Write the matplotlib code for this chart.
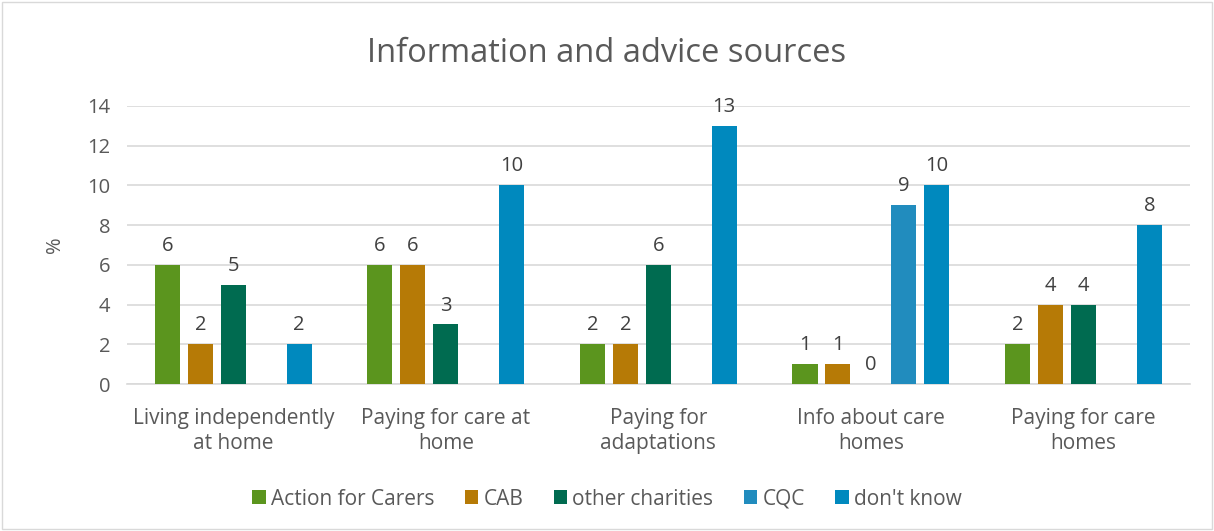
import numpy as np
import matplotlib
matplotlib.use('Agg')
from matplotlib import pyplot as plt

categories = ['Living independently\nat home', 'Paying for care at\nhome', 'Paying for\nadaptations',
              'Info about care\nhomes', 'Paying for care\nhomes']
series = ['Action for Carers', 'CAB', 'other charities', 'CQC', "don't know"]
action_for_carers = [6, 6, 2, 1, 2]
cab = [2, 6, 2, 1, 4]
other_charities = [5, 3, 6, 0, 4]
cqc = [np.nan, np.nan, np.nan, 9, np.nan]
dont_know = [2, 10, 13, 10, 8]
colors = ['#5B951E', '#B67A06', '#006B50', '#218CBE', '#0089BE']

values = [action_for_carers, cab, other_charities, cqc, dont_know]

plt.rcParams['font.family'] = ['Open Sans', 'DejaVu Sans']
txt = '#595959'

fig = plt.figure(figsize=(12.14, 5.31), dpi=100)
ax = fig.add_axes([0.1046, 0.2768, 0.8754, 0.5236])
fig.patches.append(plt.Rectangle((0.002, 0.003), 0.996, 0.994, transform=fig.transFigure,
                                 fill=False, edgecolor='#D9D9D9', linewidth=1))

x = np.arange(len(categories))
pitch = 0.155
width = 0.118
for i, (name, vals) in enumerate(zip(series, values)):
    pos = x + (i - 2) * pitch
    ax.bar(pos, vals, width, color=colors[i], label=name, zorder=3)
    for p, v in zip(pos, vals):
        if not np.isnan(v):
            ax.text(p, v + 0.45, '%d' % v, ha='center', va='bottom', fontsize=14.5, color='#404040')

ax.set_xlim(-0.5, 4.5)
ax.set_ylim(0, 14)
ax.set_yticks(range(0, 15, 2))
ax.grid(axis='y', color='#D9D9D9', linewidth=1.2, zorder=0)
for s in ['top', 'right', 'left']:
    ax.spines[s].set_visible(False)
ax.spines['bottom'].set_color('#D9D9D9')
ax.spines['bottom'].set_linewidth(1.2)
ax.tick_params(axis='y', length=0, labelsize=14.5, colors=txt, pad=12)
ax.tick_params(axis='x', length=0, colors=txt, pad=17)
ax.set_xticks(x)
ax.set_xticklabels(categories, fontsize=15, color=txt, linespacing=1.3)
ax.set_ylabel('%', fontsize=14.5, color=txt, labelpad=16)

fig.suptitle('Information and advice sources', y=0.93, fontsize=23.5, color=txt)
fig.legend(loc='lower center', bbox_to_anchor=(0.5, 0.005), ncol=5, frameon=False,
           fontsize=15, labelcolor=txt, handlelength=0.65, handleheight=0.65,
           handletextpad=0.25, columnspacing=1.45)

plt.savefig('out.png', dpi=100)
